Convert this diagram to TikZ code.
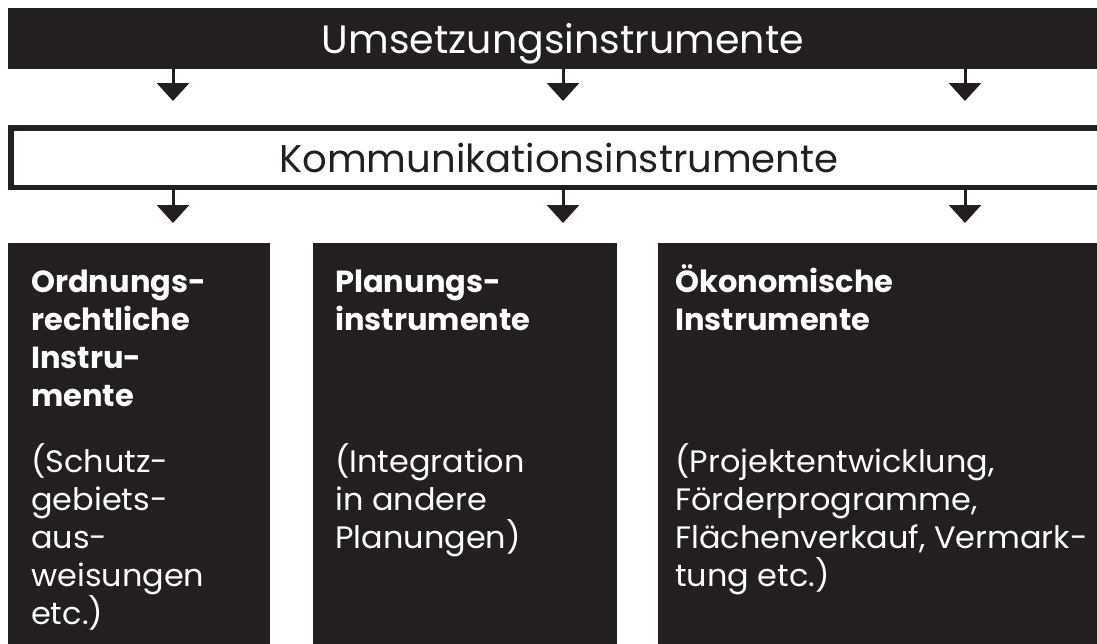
\documentclass[tikz,border=0pt]{standalone}
\usepackage{fontspec}
\setmainfont{Poppins}
\newfontfamily\widereg[FakeStretch=1.03]{Poppins}
\usetikzlibrary{arrows.meta}
\definecolor{ink}{HTML}{231F20}
\tikzset{
  darkbox/.style={fill=ink, draw=none, inner sep=0pt, anchor=north west},
  arr/.style={draw=ink, line width=3pt, -{Triangle[width=32pt,length=18pt]}},
  hd/.style={text=white, inner sep=0pt, anchor=base west, font=\fontsize{30.5}{38}\selectfont\bfseries},
  tx/.style={text=white, inner sep=0pt, anchor=base west, font=\widereg\fontsize{31}{38}\selectfont},
}
\begin{document}
\begin{tikzpicture}[x=1pt,y=-1pt]
\useasboundingbox (0,0) rectangle (1097,643);
\clip (0,0) rectangle (1097,643);
% top bar
\fill[ink] (8,8) rectangle (1110,69);
\node (top) [text=white, inner sep=0pt, anchor=base, font=\fontsize{39.5}{46}\selectfont] at (563,53) {Umsetzungsinstrumente};
\coordinate (topS) at (563,69);
% communication box
\draw[ink, line width=5.5pt] (10.75,127.75) rectangle (1110,187.25);
\node (komm) [text=ink, inner sep=0pt, anchor=base, font=\fontsize{38.6}{46}\selectfont] at (559,172) {Kommunikationsinstrumente};
\coordinate (kN) at (563,125);
\coordinate (kS) at (563,190);
% arrows top -> komm
\coordinate (a1) at (173,0);
\coordinate (a2) at (563,0);
\coordinate (a3) at (965,0);
\foreach \c in {a1,a2,a3}{
  \draw[arr] (topS -| \c) -- ([yshift=24pt]kN -| \c);
}
% bottom boxes
\node (b1) [darkbox, minimum width=262pt, minimum height=410pt] at (8,243) {};
\node (b2) [darkbox, minimum width=304pt, minimum height=410pt] at (313,243) {};
\node (b3) [darkbox, minimum width=450pt, minimum height=410pt] at (658,243) {};
\foreach \c/\b in {a1/b1,a2/b2,a3/b3}{
  \draw[arr] (kS -| \c) -- ([yshift=20pt]\b.north -| \c);
}
% box 1 text
\node (h11) [hd] at (31,292) {Ordnungs-};
\node (h12) [hd] at (31,330) {rechtliche};
\node (h13) [hd] at (31,368) {Instru-};
\node (h14) [hd] at (31,406) {mente};
\node (p11) [tx] at (31,472) {(Schutz-};
\node (p12) [tx] at (31,510) {gebiets-};
\node (p13) [tx] at (31,548) {aus-};
\node (p14) [tx] at (31,586) {weisungen};
\node (p15) [tx] at (31,624) {etc.)};
% box 2 text
\node (h21) [hd] at (335,292) {Planungs-};
\node (h22) [hd] at (335,330) {instrumente};
\node (p21) [tx] at (335,472) {(Integration};
\node (p22) [tx] at (335,510) {in andere};
\node (p23) [tx] at (335,548) {Planungen)};
% box 3 text
\node (h31) [hd] at (675,292) {Ökonomische};
\node (h32) [hd] at (675,330) {Instrumente};
\node (p31) [tx] at (675,472) {(Projektentwicklung,};
\node (p32) [tx] at (675,510) {Förderprogramme,};
\node (p33) [tx] at (675,548) {Flächenverkauf, Vermark-};
\node (p34) [tx] at (675,586) {tung etc.)};
\end{tikzpicture}
\end{document}
